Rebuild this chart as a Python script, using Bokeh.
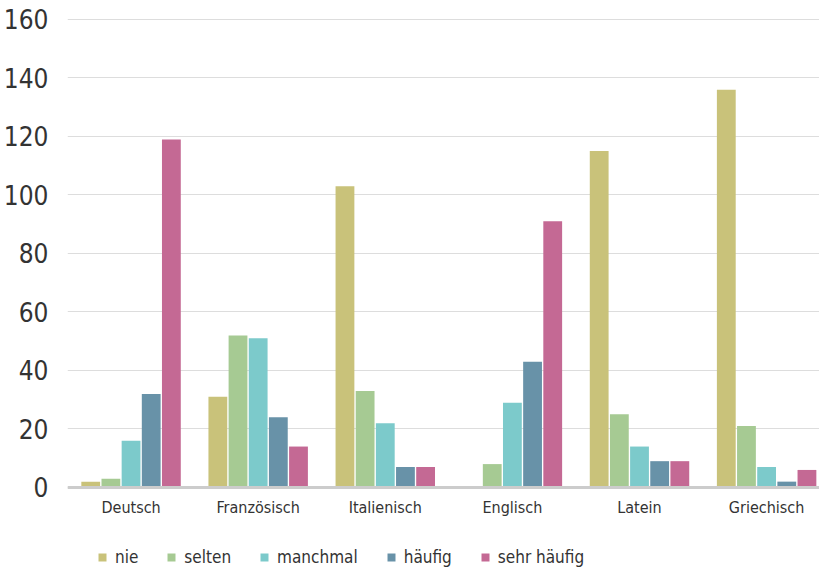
from bokeh.plotting import figure
from bokeh.models import ColumnDataSource, Range1d, FixedTicker, Legend, LegendItem, Span
from bokeh.transform import dodge
from bokeh.embed import file_html
from bokeh.resources import INLINE

categories = ["Deutsch", "Französisch", "Italienisch", "Englisch", "Latein", "Griechisch"]
series_names = ["nie", "selten", "manchmal", "häufig", "sehr häufig"]
nie = [2, 31, 103, 0.3, 115, 136]
selten = [3, 52, 33, 8, 25, 21]
manchmal = [16, 51, 22, 29, 14, 7]
haeufig = [32, 24, 7, 43, 9, 2]
sehr_haeufig = [119, 14, 7, 91, 9, 6]
colors = ["#c9c27a", "#a6ca93", "#7ccacb", "#6892a8", "#c46994"]
y_ticks = [0, 20, 40, 60, 80, 100, 120, 140, 160]

FONT = "'DejaVu Sans Condensed', Roboto"

source = ColumnDataSource(dict(
    x=list(range(len(categories))),
    nie=nie, selten=selten, manchmal=manchmal,
    haeufig=haeufig, sehr_haeufig=sehr_haeufig,
))
label_source = ColumnDataSource(dict(
    x=list(range(len(categories))), y=[0] * len(categories), text=categories,
))
fields = ["nie", "selten", "manchmal", "haeufig", "sehr_haeufig"]

p = figure(width=819, height=571, output_backend="svg", toolbar_location=None,
           x_range=Range1d(-0.5, 5.416), y_range=Range1d(-28.72, 162.735),
           min_border_left=58, min_border_top=11, min_border_right=0, min_border_bottom=0)
p.outline_line_color = None
p.background_fill_color = "white"
p.border_fill_color = "white"

step = 0.1586
renderers = []
for i, (f, c) in enumerate(zip(fields, colors)):
    r = p.vbar(x=dodge("x", (i - 2) * step), top=f, width=0.148, bottom=0,
               source=source, fill_color=c, line_color=None)
    renderers.append(r)

# baseline (x axis line)
p.add_layout(Span(location=0, dimension="width", line_color="#cccccc", line_width=3))

# category labels below the baseline
p.text(x="x", y="y", text="text", source=label_source, y_offset=20,
       text_align="center", text_baseline="middle",
       text_font={"value": FONT}, text_font_size="16px", text_color="#333333")

p.xaxis.visible = False

p.yaxis.ticker = FixedTicker(ticks=y_ticks)
p.yaxis.major_tick_line_color = None
p.yaxis.minor_tick_line_color = None
p.yaxis.axis_line_color = None
p.yaxis.major_label_text_font = FONT
p.yaxis.major_label_text_font_size = "26px"
p.yaxis.major_label_text_color = "#333333"
p.yaxis.major_label_standoff = 13

p.xgrid.grid_line_color = None
p.ygrid.grid_line_color = "#dddddd"
p.ygrid.grid_line_width = 1
p.ygrid.ticker = FixedTicker(ticks=y_ticks)

items = [LegendItem(label=n, renderers=[r]) for n, r in zip(series_names, renderers)]
legend = Legend(items=items, orientation="horizontal", location=(30, 4),
                glyph_width=10, glyph_height=10, label_standoff=8, spacing=28,
                label_height=20,
                label_text_font=FONT, label_text_font_size="17px",
                label_text_color="#333333", border_line_color=None,
                background_fill_alpha=0, padding=0, margin=0)
p.add_layout(legend, "center")

open("out.html", "w").write(file_html(p, INLINE))
